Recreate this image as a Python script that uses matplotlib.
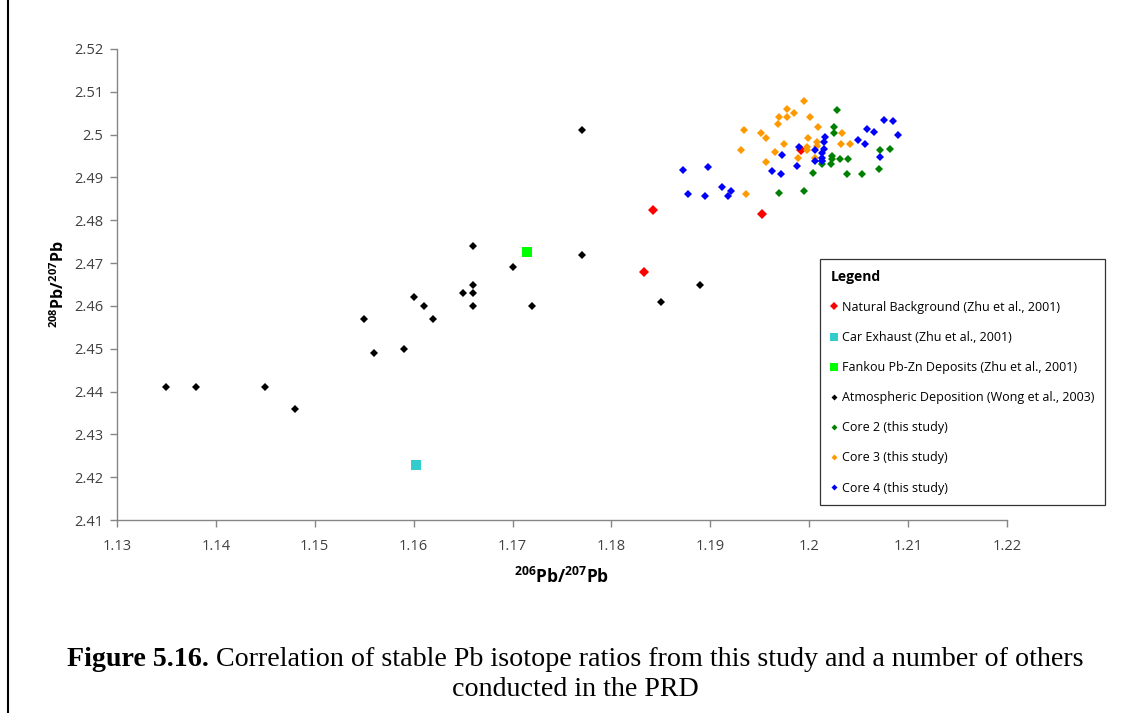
import matplotlib
matplotlib.use("Agg")
import matplotlib.pyplot as plt
from matplotlib.lines import Line2D
from matplotlib.ticker import FuncFormatter, MultipleLocator

plt.rcParams["font.family"] = ["Open Sans", "DejaVu Sans"]
plt.rcParams["mathtext.fontset"] = "custom"
plt.rcParams["mathtext.rm"] = "Open Sans"
plt.rcParams["mathtext.bf"] = "Open Sans:bold"

# --- data ---
natural_x = [1.1842, 1.1833, 1.1952, 1.1992]
natural_y = [2.4824, 2.4680, 2.4815, 2.4964]

car_x = [1.1602]
car_y = [2.4228]

fankou_x = [1.1715]
fankou_y = [2.4726]

atmos_x = [1.135, 1.138, 1.145, 1.148, 1.155, 1.156, 1.159, 1.160, 1.161, 1.162,
           1.165, 1.166, 1.166, 1.166, 1.166, 1.170, 1.172, 1.177, 1.177, 1.185, 1.189]
atmos_y = [2.441, 2.441, 2.441, 2.436, 2.457, 2.449, 2.450, 2.462, 2.460, 2.457,
           2.463, 2.474, 2.465, 2.463, 2.460, 2.469, 2.460, 2.501, 2.472, 2.461, 2.465]

core2_x = [1.2028, 1.2025, 1.2025, 1.2023, 1.2023, 1.2031, 1.2039, 1.2013, 1.2013,
           1.2022, 1.2004, 1.2038, 1.2053, 1.2072, 1.2082, 1.2071, 1.1969, 1.1995]
core2_y = [2.5058, 2.5019, 2.5003, 2.4951, 2.4943, 2.4944, 2.4944, 2.4939, 2.4931,
           2.4931, 2.4911, 2.4909, 2.4909, 2.4964, 2.4966, 2.4919, 2.4864, 2.4868]

core3_x = [1.1995, 1.1978, 1.1985, 1.1969, 1.1978, 1.2001, 1.1968, 1.2009, 1.1934,
           1.1951, 1.2033, 1.1956, 1.1999, 1.2008, 1.1974, 1.2032, 1.2041, 1.2008,
           1.1998, 1.1998, 1.1931, 1.1965, 1.1989, 1.2006, 1.1956, 1.1936]
core3_y = [2.5079, 2.5059, 2.5051, 2.5041, 2.5041, 2.5041, 2.5024, 2.5019, 2.5011,
           2.5004, 2.5004, 2.4991, 2.4991, 2.4983, 2.4979, 2.4979, 2.4979, 2.4973,
           2.4972, 2.4964, 2.4964, 2.4959, 2.4946, 2.4946, 2.4936, 2.4861]

core4_x = [1.2016, 1.2015, 1.1990, 1.2015, 1.2006, 1.2013, 1.1972, 1.2013, 1.2006,
           1.2013, 1.1988, 1.1962, 1.1971, 1.2049, 1.2056, 1.2058, 1.2066, 1.2076,
           1.2085, 1.2090, 1.2072, 1.1912, 1.1921, 1.1918, 1.1872, 1.1877, 1.1895, 1.1898]
core4_y = [2.4994, 2.4983, 2.4971, 2.4966, 2.4963, 2.4956, 2.4952, 2.4946, 2.4939,
           2.4938, 2.4927, 2.4916, 2.4909, 2.4987, 2.4978, 2.5014, 2.5006, 2.5034,
           2.5031, 2.4998, 2.4947, 2.4877, 2.4869, 2.4857, 2.4917, 2.4861, 2.4857, 2.4924]

SERIES = [
    ("Natural Background (Zhu et al., 2001)", natural_x, natural_y, "D", 5.6, "#ff0000"),
    ("Car Exhaust (Zhu et al., 2001)", car_x, car_y, "s", 7.5, "#33cccc"),
    ("Fankou Pb-Zn Deposits (Zhu et al., 2001)", fankou_x, fankou_y, "s", 7.5, "#00ff00"),
    ("Atmospheric Deposition (Wong et al., 2003)", atmos_x, atmos_y, "D", 3.8, "#000000"),
    ("Core 2 (this study)", core2_x, core2_y, "D", 3.8, "#008000"),
    ("Core 3 (this study)", core3_x, core3_y, "D", 3.8, "#ff9900"),
    ("Core 4 (this study)", core4_x, core4_y, "D", 3.8, "#0000ff"),
]

fig = plt.figure(figsize=(11.4, 7.13), dpi=100)
ax = fig.add_axes([117 / 1140, 1 - 520 / 713, 890 / 1140, 471 / 713])

for label, xs, ys, mk, ms, col in SERIES:
    ax.plot(xs, ys, linestyle="none", marker=mk, markersize=ms,
            color=col, markeredgewidth=0, label=label)

ax.set_xlim(1.13, 1.22)
ax.set_ylim(2.41, 2.52)
ax.xaxis.set_major_locator(MultipleLocator(0.01))
ax.yaxis.set_major_locator(MultipleLocator(0.01))
fmt = FuncFormatter(lambda v, _: f"{round(v, 4):g}")
ax.xaxis.set_major_formatter(fmt)
ax.yaxis.set_major_formatter(fmt)

for side in ("top", "right"):
    ax.spines[side].set_visible(False)
for side in ("left", "bottom"):
    ax.spines[side].set_color("#868686")
    ax.spines[side].set_linewidth(1.0)
ax.tick_params(axis="both", direction="out", length=5, width=1.0,
               color="#868686", labelsize=10.5, labelcolor="#404040", pad=5)
ax.tick_params(axis="x", pad=9)

ax.set_xlabel(r"$\mathbf{^{206}Pb/^{207}Pb}$", fontsize=12.5, labelpad=9)
ax.set_ylabel(r"$\mathbf{^{208}Pb/^{207}Pb}$", fontsize=11.5, labelpad=4)

handles = [Line2D([], [], linestyle="none", marker=mk, markersize=ms * 0.8,
                  color=col, markeredgewidth=0)
           for _, _, _, mk, ms, col in SERIES]
labels = [s[0] for s in SERIES]
leg = fig.legend(handles, labels, title="Legend", loc="upper left",
                 bbox_to_anchor=(820 / 1140, 1 - 259 / 713),
                 fontsize=9, title_fontproperties={"weight": "bold", "size": 10},
                 alignment="left", frameon=True, fancybox=False,
                 edgecolor="#000000", labelspacing=1.37, handlelength=0.6,
                 handletextpad=0.3, borderpad=0.85, borderaxespad=0)
leg.get_frame().set_linewidth(0.9)

# page border line
fig.add_artist(Line2D([8 / 1140, 8 / 1140], [0, 1], color="black", lw=1.5))

# caption
fig.canvas.draw()
r = fig.canvas.get_renderer()
bold = fig.text(0, 0, "Figure 5.16.", family="Liberation Serif",
                weight="bold", fontsize=20.2)
rest = fig.text(0, 0, " Correlation of stable Pb isotope ratios from this study and a number of others",
                family="Liberation Serif", fontsize=20.2)
wb = bold.get_window_extent(r).width
wr = rest.get_window_extent(r).width
x0 = (575 - (wb + wr) / 2) / 1140
yc = 1 - 660 / 713
bold.set_position((x0, yc))
bold.set_va("center")
rest.set_position((x0 + wb / 1140, yc))
rest.set_va("center")
fig.text(575 / 1140, 1 - 690 / 713, "conducted in the PRD", family="Liberation Serif",
         fontsize=20.2, ha="center", va="center")

fig.savefig("out.png", dpi=100)
